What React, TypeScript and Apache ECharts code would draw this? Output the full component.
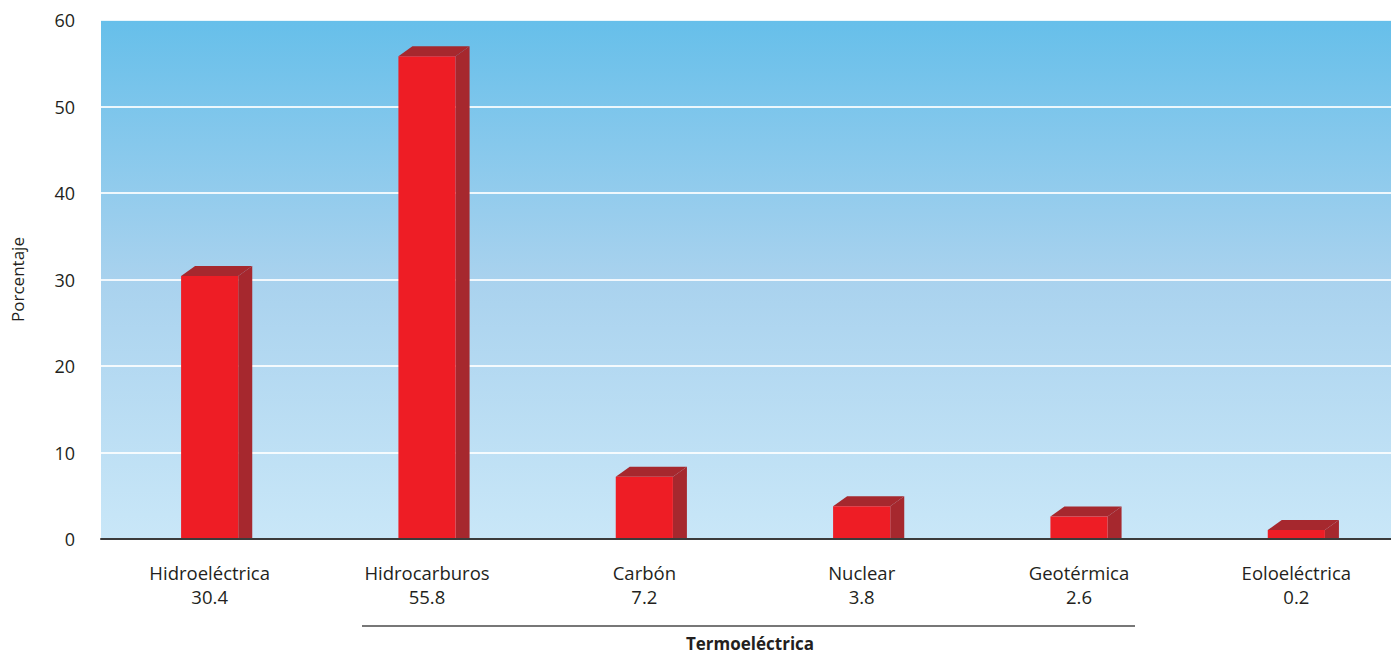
import React, { useEffect, useRef } from "react";
import * as echarts from "echarts";

const categories = ["Hidroeléctrica", "Hidrocarburos", "Carbón", "Nuclear", "Geotérmica", "Eoloeléctrica"];
const values = [30.4, 55.8, 7.2, 3.8, 2.6, 0.2];
const valueLabels = ["30.4", "55.8", "7.2", "3.8", "2.6", "0.2"];
const yTicks = { min: 0, max: 60, interval: 10 };
const axisName = "Porcentaje";
const groupLabel = "Termoeléctrica";

const FONT = "'Open Sans', 'Noto Sans', sans-serif";

export default function App() {
  const ref = useRef<HTMLDivElement>(null);
  useEffect(() => {
    document.body.style.margin = "0";
    const chart = echarts.init(ref.current!, null, { renderer: "svg" });
    const front = "#ee1d25";
    const dark = "#a6282e";
    chart.setOption({
      animation: false,
      backgroundColor: "#ffffff",
      textStyle: { fontFamily: FONT },
      grid: {
        left: 101,
        width: 1304,
        top: 20,
        bottom: 116,
        show: true,
        borderWidth: 0,
        containLabel: false,
        outerBoundsMode: "none",
        backgroundColor: new echarts.graphic.LinearGradient(0, 0, 0, 1, [
          { offset: 0, color: "#66bfea" },
          { offset: 0.5, color: "#a9d2ee" },
          { offset: 1, color: "#c9e7f8" },
        ]),
      },
      xAxis: {
        type: "category",
        data: categories,
        z: 5,
        axisLine: { show: true, lineStyle: { color: "#3b3b3b", width: 2 } },
        axisTick: { show: false },
        axisLabel: {
          margin: 21,
          color: "#231f20",
          fontSize: 18.5,
          lineHeight: 24,
          fontFamily: FONT,
          formatter: (v: string, i: number) => `${v}\n${valueLabels[i]}`,
        },
        splitLine: { show: false },
      },
      yAxis: {
        type: "value",
        min: yTicks.min,
        max: yTicks.max,
        interval: yTicks.interval,
        name: axisName,
        nameLocation: "middle",
        nameGap: 75,
        nameTextStyle: { color: "#231f20", fontSize: 17, fontFamily: FONT },
        axisLine: { show: false },
        axisTick: { show: false },
        axisLabel: { margin: 26, color: "#231f20", fontSize: 18, fontFamily: FONT },
        splitLine: {
          show: true,
          lineStyle: { color: "rgba(255,255,255,0.85)", width: 2 },
        },
      },
      series: [
        {
          type: "custom",
          data: values.map((v, i) => [i, v]),
          encode: { x: 0, y: 1 },
          renderItem: (params: any, api: any) => {
            const idx = api.value(0);
            const v = api.value(1);
            const c = api.coord([idx, v]);
            const b = api.coord([idx, 0]);
            const bw = api.size([1, 0])[0] * 0.263;
            const d = 14;
            const dy = 10;
            const x0 = c[0] - bw / 2;
            const x1 = c[0] + bw / 2;
            const bot = b[1];
            const top = Math.min(c[1], bot - 9);
            return {
              type: "group",
              children: [
                {
                  type: "polygon",
                  shape: { points: [[x1, top], [x1 + d, top - dy], [x1 + d, bot], [x1, bot]] },
                  style: { fill: dark },
                },
                {
                  type: "polygon",
                  shape: { points: [[x0, top], [x0 + d, top - dy], [x1 + d, top - dy], [x1, top]] },
                  style: { fill: dark },
                },
                {
                  type: "rect",
                  shape: { x: x0, y: top, width: bw, height: bot - top },
                  style: { fill: front },
                },
              ],
            };
          },
        },
      ],
      graphic: [
        {
          type: "line",
          shape: { x1: 362, y1: 626, x2: 1135, y2: 626 },
          style: { stroke: "#4a4a4a", lineWidth: 1.5 },
        },
        {
          type: "text",
          x: 750,
          y: 643,
          style: {
            text: groupLabel,
            fill: "#231f20",
            font: `bold 17px ${FONT}`,
            align: "center",
            verticalAlign: "middle",
          },
        },
      ],
    });
    return () => chart.dispose();
  }, []);
  return (
    <div
      ref={ref}
      style={{ position: "absolute", left: 0, top: 0, width: 1391, height: 655 }}
    />
  );
}
